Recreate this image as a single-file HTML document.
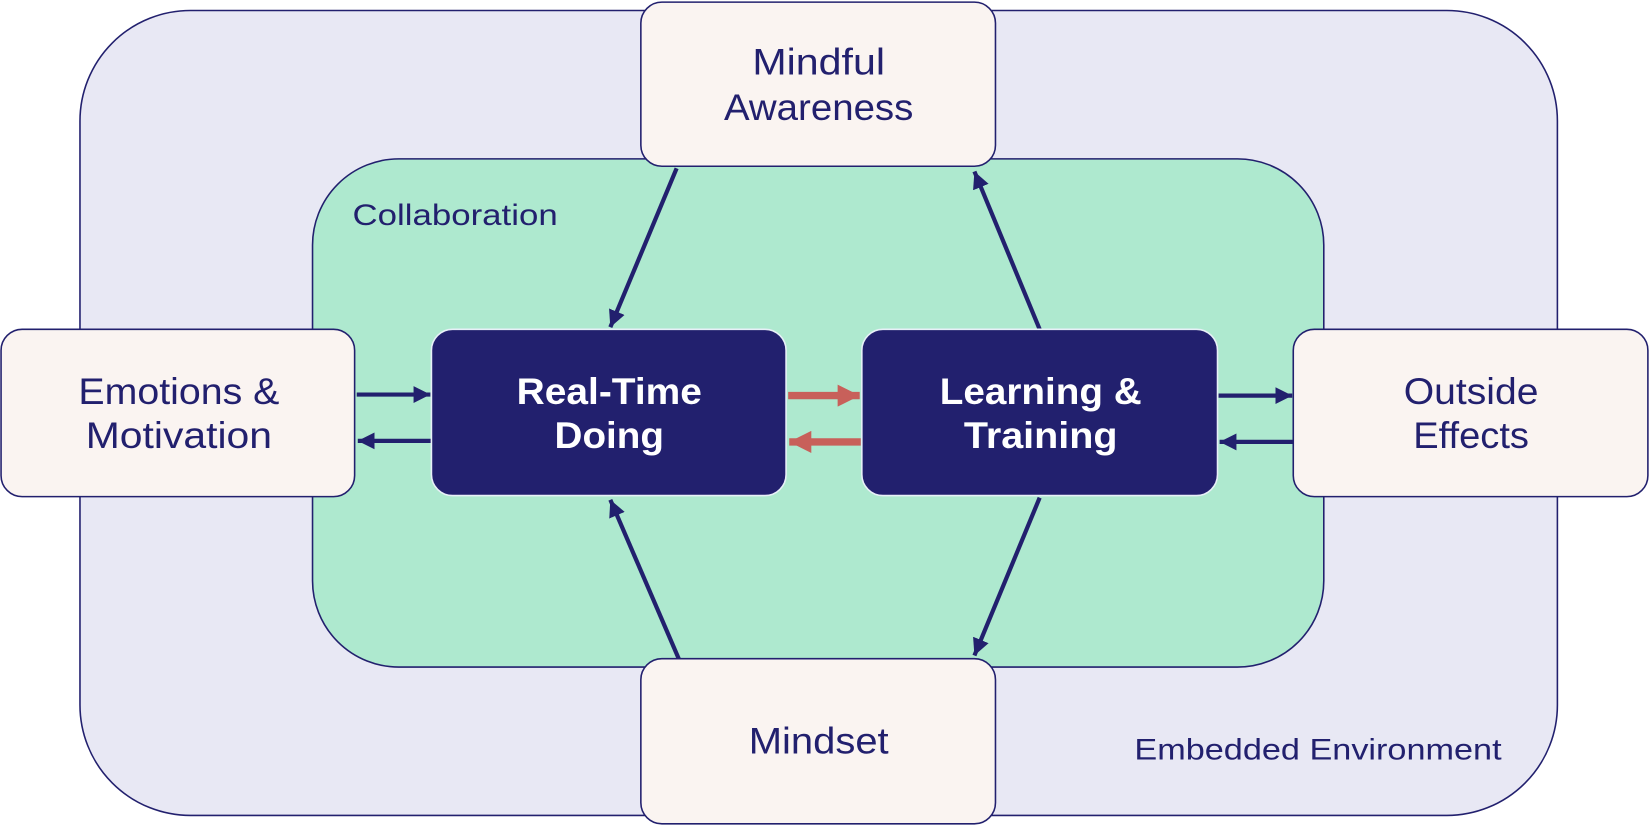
<!DOCTYPE html>
<html><head><meta charset="utf-8"><style>html,body{margin:0;padding:0;background:#fff}svg{display:block}</style></head>
<body>
<svg width="1650" height="827" viewBox="0 0 1568 786" preserveAspectRatio="none" xmlns="http://www.w3.org/2000/svg" font-family="Liberation Sans, sans-serif">
<defs>
<marker id="an" markerWidth="4" markerHeight="4" refX="4" refY="2" orient="auto" markerUnits="strokeWidth"><path d="M0,0 L4,2 L0,4 z" fill="#22206e"/></marker>
<marker id="ar" markerWidth="3" markerHeight="3" refX="3" refY="1.5" orient="auto" markerUnits="strokeWidth"><path d="M0,0 L3,1.5 L0,3 z" fill="#c8605a"/></marker>
</defs>
<rect x="76" y="10" width="1404" height="765" rx="105" fill="#e8e8f4" stroke="#22206e" stroke-width="1.5"/>
<rect x="297" y="151" width="961" height="483" rx="82" fill="#aee9cf" stroke="#22206e" stroke-width="1.5"/>
<text x="335" y="214" font-size="28" fill="#22206e" textLength="195" lengthAdjust="spacingAndGlyphs">Collaboration</text>
<text x="1078" y="722" font-size="28" fill="#22206e" textLength="349" lengthAdjust="spacingAndGlyphs">Embedded Environment</text>

<g stroke="#22206e" stroke-width="4" fill="none" marker-end="url(#an)">
<line x1="643" y1="160" x2="580" y2="311"/>
<line x1="988" y1="313" x2="926" y2="163"/>
<line x1="988" y1="473" x2="926" y2="623"/>
<line x1="645" y1="626" x2="580" y2="475"/>
<line x1="339" y1="375" x2="409" y2="375"/>
<line x1="410" y1="419" x2="340" y2="419"/>
<line x1="1158" y1="376" x2="1228" y2="376"/>
<line x1="1229" y1="420" x2="1159" y2="420"/>
</g>
<g stroke="#c8605a" stroke-width="7" fill="none" marker-end="url(#ar)">
<line x1="749" y1="376" x2="817" y2="376"/>
<line x1="818" y1="420" x2="750" y2="420"/>
</g>

<g fill="#faf4f1" stroke="#22206e" stroke-width="1.5">
<rect x="609" y="2" width="337" height="156" rx="20"/>
<rect x="609" y="626" width="337" height="157" rx="20"/>
<rect x="1" y="313" width="336" height="159" rx="20"/>
<rect x="1229" y="313" width="337" height="159" rx="20"/>
</g>
<g fill="#22206e" stroke="#e8f0f8" stroke-width="1.5">
<rect x="410" y="313" width="337" height="158" rx="20"/>
<rect x="819" y="313" width="338" height="158" rx="20"/>
</g>
<g font-size="35" fill="#22206e" text-anchor="middle">
<text x="778" y="71" textLength="126" lengthAdjust="spacingAndGlyphs">Mindful</text>
<text x="778" y="114" textLength="180" lengthAdjust="spacingAndGlyphs">Awareness</text>
<text x="778" y="716" textLength="133" lengthAdjust="spacingAndGlyphs">Mindset</text>
<text x="170" y="384" textLength="191" lengthAdjust="spacingAndGlyphs">Emotions &amp;</text>
<text x="170" y="426" textLength="177" lengthAdjust="spacingAndGlyphs">Motivation</text>
<text x="1398" y="384" textLength="128" lengthAdjust="spacingAndGlyphs">Outside</text>
<text x="1398" y="426" textLength="110" lengthAdjust="spacingAndGlyphs">Effects</text>
</g>
<g font-size="35" font-weight="bold" fill="#fff" text-anchor="middle">
<text x="579" y="384" textLength="176" lengthAdjust="spacingAndGlyphs">Real-Time</text>
<text x="579" y="426" textLength="104" lengthAdjust="spacingAndGlyphs">Doing</text>
<text x="989" y="384" textLength="192" lengthAdjust="spacingAndGlyphs">Learning &amp;</text>
<text x="989" y="426" textLength="146" lengthAdjust="spacingAndGlyphs">Training</text>
</g>
</svg>
</body></html>
